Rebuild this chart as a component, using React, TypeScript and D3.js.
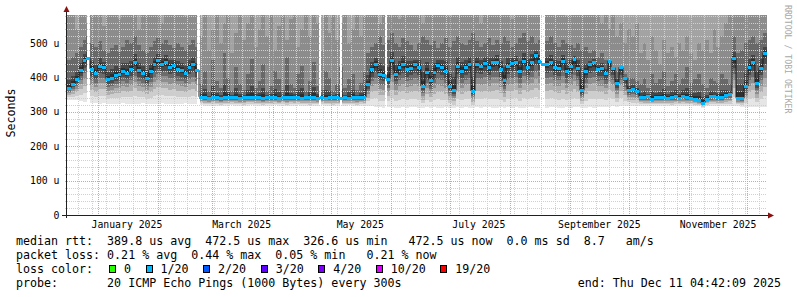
import React from "react";
import * as d3 from "d3";

// ---- data ----
const START = "2024-12-16T04:42:09Z";
const END = "2025-12-11T04:42:09Z";
const STEP_DAYS = 2;
const Y_MAX = 582;

// median rtt (microseconds), one value every 2 days
const medianUs = [
  370, 381, 395, 422, 452, 456, 425, 414, 435, 432, 395, 400, 408, 409, 420, 414, 426, 445, 421, 414,
  400, 418, 440, 450, 440, 445, 432, 436, 424, 421, 412, 432, 440, 422,
  344, 342, 341, 343, 342, 341, 342, 344, 343, 342, 341, 342, 343, 342, 344, 342, 341, 343, 342, 342,
  341, 343, 342, 344, 343, 342, 341, 342, 343, 342, 341, 342, 341, 342, 343, 342, 341, 342, 341, 343,
  342, 344, 343,
  380, 424, 440, 411, 408, 397, 450, 410, 431, 440, 425, 429, 439, 431, 375, 417, 392, 416, 437, 432,
  419, 375, 363, 435, 420, 431, 440, 361, 439, 434, 441, 430, 444, 446, 425, 392, 435, 441, 445, 419,
  448, 432, 445, 466, 448, 440, 440, 444, 430, 429, 448, 419, 434, 453, 429, 363, 418, 440, 444, 426,
  429, 414, 448, 429, 385, 430, 400, 365, 367, 362,
  343, 343, 345, 339, 343, 344, 344, 341, 343, 345, 341, 347, 343, 341, 339, 336, 327, 339, 345, 345,
  344, 344, 350, 352,
  456, 341, 341, 375, 430, 444, 385, 429, 472.5,
];

// lowest ping of each interval (bottom edge of the smoke)
const minUs = [
  336, 335, 334, 332, 330, 328, 326, 325, 324, 325, 323, 324, 322, 323, 325, 324, 323, 322, 324, 325,
  323, 322, 324, 323, 325, 322, 324, 323, 322, 324, 325, 323, 322, 324,
  320, 318, 317, 319, 318, 316, 318, 317, 319, 318, 317, 316, 318, 319, 317, 318, 316, 317, 318, 319,
  317, 318, 316, 318, 317, 319, 318, 317, 316, 318, 317, 319, 318, 317, 316, 318, 317, 318, 319, 317,
  316, 318, 317,
  318, 316, 314, 313, 312, 314, 313, 312, 311, 313, 312, 314, 313, 311, 312, 313, 312, 314, 311, 312,
  313, 312, 311, 313, 312, 314, 312, 311, 313, 312, 314, 313, 312, 311, 313, 312, 314, 312, 313, 311,
  312, 314, 313, 312, 311, 313, 312, 314, 313, 312, 311, 313, 312, 314, 313, 312, 311, 313, 312, 314,
  313, 315, 314, 316, 315, 317, 316, 318, 317, 318,
  318, 317, 316, 318, 317, 316, 317, 318, 316, 317, 318, 316, 317, 318, 316, 317, 312, 316, 317, 318,
  316, 317, 318, 317,
  316, 317, 315, 314, 313, 314, 315, 314, 313,
];

// upper edge of the dense smoke above the median
const upperUs = [
  450, 460, 470, 490, 510, 520, 500, 490, 505, 480, 470, 485, 495, 475, 490, 510, 500, 520, 495, 480,
  470, 490, 505, 515, 500, 510, 495, 485, 500, 490, 480, 495, 510, 490,
  380, 420, 360, 450, 390, 370, 470, 400, 360, 430, 380, 365, 410, 455, 370, 390, 440, 360, 375, 420,
  395, 365, 460, 380, 370, 410, 435, 360, 390, 445, 375, 365, 420, 400, 360, 380, 430, 370, 395, 410,
  365, 385, 420,
  470, 490, 500, 520, 495, 510, 530, 500, 490, 515, 505, 495, 480, 500, 520, 510, 495, 505, 485, 500,
  515, 490, 505, 520, 500, 495, 510, 530, 505, 490, 500, 515, 495, 510, 500, 520, 505, 490, 500, 515,
  530, 505, 520, 500, 510, 495, 505, 520, 500, 490, 510, 500, 495, 485, 500, 480, 490, 470, 480, 460,
  470, 450, 440, 430, 420, 430, 410, 400, 400, 390,
  380, 400, 370, 410, 385, 395, 420, 375, 390, 410, 380, 400, 430, 385, 395, 410, 380, 370, 400, 390,
  385, 410, 395, 380,
  520, 470, 480, 500, 510, 520, 500, 510, 530,
];

// level above which only the sparse outliers remain (lighter smoke)
const sparseUs = [
  600, 600, 540, 600, 600, 560, 600, 600, 600, 550, 600, 600, 600, 570, 600, 600, 600, 600, 540, 600,
  600, 600, 600, 600, 560, 600, 600, 600, 600, 600, 580, 600, 600, 600,
  520, 600, 480, 540, 600, 500, 560, 600, 470, 530, 600, 510, 560, 600, 490, 540, 600, 520, 600, 480,
  550, 600, 510, 570, 600, 490, 540, 600, 520, 600, 560, 480, 600, 530, 600, 510, 560, 600, 500, 540,
  600, 520, 580,
  600, 600, 600, 560, 600, 600, 600, 600, 570, 600, 600, 600, 600, 600, 560, 600, 600, 600, 600, 600,
  600, 580, 600, 600, 600, 600, 600, 600, 600, 560, 600, 600, 600, 600, 600, 600, 600, 570, 600, 600,
  600, 600, 600, 600, 600, 600, 600, 600, 600, 600, 600, 580, 600, 600, 600, 600, 600, 600, 600, 600,
  560, 600, 540, 600, 520, 560, 500, 540, 520, 560,
  470, 500, 450, 520, 480, 440, 510, 470, 490, 460, 500, 480, 520, 470, 450, 500, 480, 510, 470, 540,
  490, 520, 560, 600,
  600, 600, 600, 600, 600, 600, 600, 600, 600,
];

// intervals without data
const gapStarts = ["2024-12-26T23:50:00Z", "2025-02-21T02:00:00Z", "2025-04-25T02:00:00Z", "2025-05-05T21:30:00Z", "2025-05-28T19:00:00Z", "2025-08-16T19:00:00Z"];
const gapEnds = ["2024-12-27T19:00:00Z", "2025-02-22T09:00:00Z", "2025-04-25T14:00:00Z", "2025-05-06T09:30:00Z", "2025-05-29T14:00:00Z", "2025-08-18T14:00:00Z"];

const yTicks = [0, 100, 200, 300, 400, 500];
const yTickLabels = ["0", "100 u", "200 u", "300 u", "400 u", "500 u"];
const monthLabelDates = ["2025-01-01", "2025-03-01", "2025-05-01", "2025-07-01", "2025-09-01", "2025-11-01"];
const monthLabels = ["January 2025", "March 2025", "May 2025", "July 2025", "September 2025", "November 2025"];

const lossLabels = ["0", "1/20", "2/20", "3/20", "4/20", "10/20", "19/20"];
const lossColors = ["#26ff00", "#00b8ff", "#0059ff", "#5e00ff", "#7e00ff", "#dd00ff", "#ff0000"];

const statLines = [
  "median rtt:  389.8 us avg  472.5 us max  326.6 us min   472.5 us now  0.0 ms sd  8.7   am/s",
  "packet loss: 0.21 % avg  0.44 % max  0.05 % min   0.21 % now",
];
const probeLine = "probe:       20 ICMP Echo Pings (1000 Bytes) every 300s";
const endLine = "end: Thu Dec 11 04:42:09 2025";

const MONO = "'DejaVu Sans Mono', monospace";

export default function App() {
  const W = 797, H = 297;
  const L = 67, R = 767, T = 15, B = 215;
  const t0 = new Date(START), t1 = new Date(END);
  const x = d3.scaleUtc().domain([t0, t1]).range([L, R]);
  const y = d3.scaleLinear().domain([0, Y_MAX]).range([B, T]);
  const stepMs = STEP_DAYS * 86400000;
  const DAY = 86400000;

  const pts = medianUs.map((m, i) => {
    const ta = new Date(+t0 + i * stepMs);
    const tb = new Date(+t0 + (i + 1) * stepMs);
    return { i, m, lo: minUs[i], hi: upperUs[i], sp: sparseUs[i], x0: Math.round(x(ta)), x1: Math.round(x(tb)) };
  });

  const ry = (v: number) => Math.round(y(Math.min(v, Y_MAX)));
  const rects: JSX.Element[] = [];
  const band = (key: string, xa: number, xb: number, v0: number, v1: number, c: string) => {
    const ya = ry(v1), yb = ry(v0);
    if (yb - ya <= 0) return;
    rects.push(<rect key={key} x={xa} y={ya} width={xb - xa} height={yb - ya} fill={c} />);
  };

  const below: [number, string][] = [
    [1.0, "#e6e6e6"], [0.8, "#cdcdcd"], [0.62, "#aeaeae"], [0.46, "#8e8e8e"],
    [0.32, "#6c6c6c"], [0.2, "#4c4c4c"], [0.09, "#333333"],
  ];

  pts.forEach((p) => {
    const { x0, x1, m, lo, hi, sp } = p;
    // above median
    if (sp < Y_MAX) band(`s${p.i}`, x0, x1, sp, Y_MAX, "#a3a3a3");
    band(`u${p.i}`, x0, x1, hi, Math.min(sp, Y_MAX), "#8c8c8c");
    band(`h${p.i}`, x0, x1, m, hi, "#686868");
    const dd = Math.min(40, (hi - m) * 0.3);
    band(`d${p.i}`, x0, x1, m, m + dd, "#464646");
    band(`e${p.i}`, x0, x1, m, m + dd * 0.4, "#303030");
    // below median
    below.forEach(([f, c], k) => band(`b${p.i}_${k}`, x0, x1, m - f * (m - lo), m, c));
  });

  const gaps = gapStarts.map((s, i) => ({ a: Math.floor(x(new Date(s))), b: Math.ceil(x(new Date(gapEnds[i]))) }));

  // grid
  const minorY = d3.range(20, Y_MAX, 20).filter((v) => v % 100 !== 0);
  const majorY = yTicks.filter((v) => v > 0);
  const minorX = d3.utcSunday.range(t0, t1);
  const majorX = d3.utcMonth.range(t0, t1);

  // median step line
  const lineData: [number, number][] = pts.map((p) => [p.x0, y(p.m)]);
  lineData.push([pts[pts.length - 1].x1, y(pts[pts.length - 1].m)]);
  const stepLine = d3.line().curve(d3.curveStepAfter)(lineData) || "";

  // legend layout
  const CH = 7.015;
  let cursor = 109;
  const legendItems = lossLabels.map((lab, i) => {
    const bx = cursor;
    const tx = bx + 15;
    cursor = tx + lab.length * CH + 14.5;
    return { lab, color: lossColors[i], bx, tx };
  });

  return (
    <svg width={W} height={H} style={{ position: "absolute", left: 0, top: 0, background: "#fff" }}
      xmlns="http://www.w3.org/2000/svg">
      <rect x={0} y={0} width={W} height={H} fill="#ffffff" />
      <defs>
        <clipPath id="plot"><rect x={L} y={T} width={R - L} height={B - T} /></clipPath>
      </defs>
      <g clipPath="url(#plot)" shapeRendering="crispEdges">
        {rects}
        {gaps.map((g, i) => <rect key={`g${i}`} x={g.a} y={T} width={Math.max(1, g.b - g.a)} height={B - T} fill="#ffffff" />)}
      </g>
      {/* grid */}
      <g shapeRendering="crispEdges" strokeWidth={1} strokeDasharray="1,1">
        {minorY.map((v) => (
          <line key={`my${v}`} x1={L - 2} x2={R} y1={Math.round(y(v)) + 0.5} y2={Math.round(y(v)) + 0.5} stroke="#d0d0d0" />
        ))}
        {minorX.map((d, i) => (
          <line key={`mx${i}`} x1={Math.round(x(d)) + 0.5} x2={Math.round(x(d)) + 0.5} y1={T} y2={B + 2} stroke="#d0d0d0" />
        ))}
        {majorY.map((v) => (
          <line key={`Mj${v}`} x1={L - 2} x2={R} y1={Math.round(y(v)) + 0.5} y2={Math.round(y(v)) + 0.5} stroke="#eb9a9a" />
        ))}
        {majorX.map((d, i) => (
          <line key={`Mx${i}`} x1={Math.round(x(d)) + 0.5} x2={Math.round(x(d)) + 0.5} y1={T} y2={B + 2} stroke="#eb9a9a" />
        ))}
      </g>
      {/* median */}
      <g clipPath="url(#plot)">
        <path d={stepLine} fill="none" stroke="#1a1a1a" strokeWidth={1} />
        {pts.map((p) => (
          <rect key={`m${p.i}`} x={p.x0} y={Math.round(y(p.m)) - 1} width={p.x1 - p.x0} height={3} fill="#00b8ff" shapeRendering="crispEdges" />
        ))}
        {gaps.map((g, i) => <rect key={`gg${i}`} x={g.a} y={T} width={Math.max(1, g.b - g.a)} height={B - T} fill="#ffffff" opacity={0} />)}
      </g>
      {/* axes */}
      <g shapeRendering="crispEdges">
        <line x1={L - 0.5} x2={L - 0.5} y1={B + 3} y2={10} stroke="#202020" />
        <line x1={L - 5} x2={R + 2} y1={B + 0.5} y2={B + 0.5} stroke="#202020" />
      </g>
      <path d={`M${L - 3.5},12 L${L + 2.5},12 L${L - 0.5},6 Z`} fill="#8b1010" />
      <path d={`M${R + 1},${B - 2.5} L${R + 1},${B + 3.5} L${R + 7},${B + 0.5} Z`} fill="#8b1010" />
      {/* tick labels */}
      <g fontFamily={MONO} fontSize={9.8} fill="#000">
        {yTicks.map((v, i) => (
          <text key={`yt${v}`} x={59.5} y={y(v)} dy="0.36em" textAnchor="end" style={{ whiteSpace: "pre" }}>{yTickLabels[i]}</text>
        ))}
        {monthLabelDates.map((d, i) => (
          <text key={`xt${i}`} x={x(new Date(+new Date(d + "T00:00:00Z") + 15 * DAY))} y={228} textAnchor="middle">{monthLabels[i]}</text>
        ))}
      </g>
      <text transform={`translate(15,113) rotate(-90)`} fontFamily={MONO} fontSize={11.65} textAnchor="middle" fill="#000">Seconds</text>
      <text transform={`translate(785,5) rotate(90)`} fontFamily={MONO} fontSize={8.2} fill="#a8a8a8">RRDTOOL / TOBI OETIKER</text>
      {/* legend */}
      <g fontFamily={MONO} fontSize={11.65} fill="#000" style={{ whiteSpace: "pre" }}>
        {statLines.map((s, i) => (
          <text key={`st${i}`} x={16} y={245 + i * 14} xmlSpace="preserve">{s}</text>
        ))}
        <text x={16} y={273} xmlSpace="preserve">loss color:</text>
        {legendItems.map((it, i) => (
          <g key={`lg${i}`}>
            <rect x={Math.round(it.bx) + 0.5} y={265.5} width={6} height={7} fill={it.color} stroke="#000" strokeWidth={1} shapeRendering="crispEdges" />
            <text x={it.tx} y={273} xmlSpace="preserve">{it.lab}</text>
          </g>
        ))}
        <text x={16} y={287} xmlSpace="preserve">{probeLine}</text>
        <text x={781} y={287} textAnchor="end" xmlSpace="preserve">{endLine}</text>
      </g>
    </svg>
  );
}
